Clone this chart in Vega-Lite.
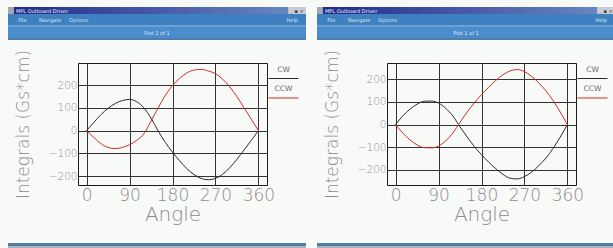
{
  "$schema": "https://vega.github.io/schema/vega-lite/v6.json",
  "padding": {"left": 7, "top": 7, "right": 0, "bottom": 0},
  "background": "#f8faf8",
  "datasets": {
    "left": [
      {"angle": 0, "series": "CW", "value": 0}, {"angle": 15, "series": "CW", "value": 36}, {"angle": 30, "series": "CW", "value": 70},
      {"angle": 45, "series": "CW", "value": 98}, {"angle": 60, "series": "CW", "value": 119}, {"angle": 75, "series": "CW", "value": 132},
      {"angle": 90, "series": "CW", "value": 137}, {"angle": 105, "series": "CW", "value": 127}, {"angle": 120, "series": "CW", "value": 100},
      {"angle": 135, "series": "CW", "value": 55}, {"angle": 150, "series": "CW", "value": -2}, {"angle": 165, "series": "CW", "value": -52},
      {"angle": 180, "series": "CW", "value": -95}, {"angle": 195, "series": "CW", "value": -133}, {"angle": 210, "series": "CW", "value": -167},
      {"angle": 225, "series": "CW", "value": -193}, {"angle": 240, "series": "CW", "value": -210}, {"angle": 255, "series": "CW", "value": -216},
      {"angle": 270, "series": "CW", "value": -210}, {"angle": 285, "series": "CW", "value": -192}, {"angle": 300, "series": "CW", "value": -163},
      {"angle": 315, "series": "CW", "value": -126}, {"angle": 330, "series": "CW", "value": -85}, {"angle": 345, "series": "CW", "value": -43},
      {"angle": 360, "series": "CW", "value": 0},
      {"angle": 0, "series": "CCW", "value": 0}, {"angle": 15, "series": "CCW", "value": -30}, {"angle": 30, "series": "CCW", "value": -57},
      {"angle": 45, "series": "CCW", "value": -74}, {"angle": 60, "series": "CCW", "value": -79}, {"angle": 75, "series": "CCW", "value": -74},
      {"angle": 90, "series": "CCW", "value": -62}, {"angle": 105, "series": "CCW", "value": -43}, {"angle": 120, "series": "CCW", "value": -14},
      {"angle": 135, "series": "CCW", "value": 42}, {"angle": 150, "series": "CCW", "value": 100}, {"angle": 165, "series": "CCW", "value": 155},
      {"angle": 180, "series": "CCW", "value": 198}, {"angle": 195, "series": "CCW", "value": 230}, {"angle": 210, "series": "CCW", "value": 253},
      {"angle": 225, "series": "CCW", "value": 266}, {"angle": 240, "series": "CCW", "value": 269}, {"angle": 255, "series": "CCW", "value": 262},
      {"angle": 270, "series": "CCW", "value": 250}, {"angle": 285, "series": "CCW", "value": 226}, {"angle": 300, "series": "CCW", "value": 192},
      {"angle": 315, "series": "CCW", "value": 149}, {"angle": 330, "series": "CCW", "value": 100}, {"angle": 345, "series": "CCW", "value": 50},
      {"angle": 360, "series": "CCW", "value": 0}
    ],
    "right": [
      {"angle": 0, "series": "CW", "value": 0}, {"angle": 15, "series": "CW", "value": 38}, {"angle": 30, "series": "CW", "value": 68},
      {"angle": 45, "series": "CW", "value": 90}, {"angle": 60, "series": "CW", "value": 103}, {"angle": 75, "series": "CW", "value": 104},
      {"angle": 90, "series": "CW", "value": 95}, {"angle": 105, "series": "CW", "value": 72}, {"angle": 120, "series": "CW", "value": 38},
      {"angle": 135, "series": "CW", "value": -10}, {"angle": 150, "series": "CW", "value": -55}, {"angle": 165, "series": "CW", "value": -97},
      {"angle": 180, "series": "CW", "value": -133}, {"angle": 195, "series": "CW", "value": -166}, {"angle": 210, "series": "CW", "value": -195},
      {"angle": 225, "series": "CW", "value": -220}, {"angle": 240, "series": "CW", "value": -237}, {"angle": 255, "series": "CW", "value": -240},
      {"angle": 270, "series": "CW", "value": -230}, {"angle": 285, "series": "CW", "value": -210}, {"angle": 300, "series": "CW", "value": -182},
      {"angle": 315, "series": "CW", "value": -148}, {"angle": 330, "series": "CW", "value": -105}, {"angle": 345, "series": "CW", "value": -55},
      {"angle": 360, "series": "CW", "value": 0},
      {"angle": 0, "series": "CCW", "value": 0}, {"angle": 15, "series": "CCW", "value": -37}, {"angle": 30, "series": "CCW", "value": -67},
      {"angle": 45, "series": "CCW", "value": -90}, {"angle": 60, "series": "CCW", "value": -102}, {"angle": 75, "series": "CCW", "value": -103},
      {"angle": 90, "series": "CCW", "value": -95}, {"angle": 105, "series": "CCW", "value": -72}, {"angle": 120, "series": "CCW", "value": -37},
      {"angle": 135, "series": "CCW", "value": 10}, {"angle": 150, "series": "CCW", "value": 55}, {"angle": 165, "series": "CCW", "value": 96},
      {"angle": 180, "series": "CCW", "value": 132}, {"angle": 195, "series": "CCW", "value": 165}, {"angle": 210, "series": "CCW", "value": 195},
      {"angle": 225, "series": "CCW", "value": 220}, {"angle": 240, "series": "CCW", "value": 237}, {"angle": 255, "series": "CCW", "value": 243},
      {"angle": 270, "series": "CCW", "value": 234}, {"angle": 285, "series": "CCW", "value": 213}, {"angle": 300, "series": "CCW", "value": 184},
      {"angle": 315, "series": "CCW", "value": 149}, {"angle": 330, "series": "CCW", "value": 106}, {"angle": 345, "series": "CCW", "value": 55},
      {"angle": 360, "series": "CCW", "value": 0}
    ]
  },
  "hconcat": [
    {
      "vconcat": [
        {"width": 228, "height": 7, "data": {"values": [{}]}, "view": {"fill": null, "stroke": null},
         "encoding": {"x": {"datum": 0, "type": "quantitative", "scale": {"domain": [23.49, 100], "nice": false, "zero": false}, "axis": null}},
         "layer": [
           {"mark": {"type": "rect", "color": {"gradient": "linear", "stops": [{"offset": 0, "color": "#1f2a8a"}, {"offset": 1, "color": "#6d8bc6"}]}}, "encoding": {"x": {"datum": 0}, "x2": {"datum": 100}}},
           {"mark": {"type": "rect", "color": "#a4a9b2"}, "encoding": {"x": {"datum": 0}, "x2": {"datum": 2}}},
           {"mark": {"type": "text", "align": "left", "baseline": "middle", "fontSize": 5, "color": "#eef2fa"}, "encoding": {"text": {"value": "MPL Outboard Driver"}, "x": {"datum": 2.7}}},
           {"mark": {"type": "rect", "color": "#c9ccd2"}, "encoding": {"x": {"datum": 94}, "x2": {"datum": 100}}},
           {"mark": {"type": "text", "align": "center", "baseline": "middle", "fontSize": 5, "color": "#333333"}, "encoding": {"text": {"value": "_ ▪ ×"}, "x": {"datum": 97}}}
         ]},
        {"width": 228, "height": 11, "data": {"values": [{}]}, "view": {"fill": null, "stroke": null},
         "encoding": {"x": {"datum": 0, "type": "quantitative", "scale": {"domain": [23.49, 100], "nice": false, "zero": false}, "axis": null}},
         "layer": [
           {"mark": {"type": "rect", "color": "#3e80c0"}, "encoding": {"x": {"datum": 0}, "x2": {"datum": 100}}},
           {"mark": {"type": "text", "align": "left", "baseline": "middle", "fontSize": 5, "color": "#d8e6f4"}, "encoding": {"text": {"value": "File"}, "x": {"datum": 3.4}}},
           {"mark": {"type": "text", "align": "left", "baseline": "middle", "fontSize": 5, "color": "#d8e6f4"}, "encoding": {"text": {"value": "Navigate"}, "x": {"datum": 10.4}}},
           {"mark": {"type": "text", "align": "left", "baseline": "middle", "fontSize": 5, "color": "#d8e6f4"}, "encoding": {"text": {"value": "Options"}, "x": {"datum": 20.5}}},
           {"mark": {"type": "text", "align": "right", "baseline": "middle", "fontSize": 5, "color": "#d8e6f4"}, "encoding": {"text": {"value": "Help"}, "x": {"datum": 97.3}}}
         ]},
        {"width": 228, "height": 2, "data": {"values": [{}]}, "view": {"fill": null, "stroke": null},
         "mark": {"type": "rect", "color": "#6e9fd0"},
         "encoding": {"x": {"datum": 0, "type": "quantitative", "scale": {"domain": [23.49, 100], "nice": false, "zero": false}, "axis": null}, "x2": {"datum": 100}}},
        {"width": 228, "height": 11, "data": {"values": [{}]}, "view": {"fill": null, "stroke": null},
         "encoding": {"x": {"datum": 0, "type": "quantitative", "scale": {"domain": [23.49, 100], "nice": false, "zero": false}, "axis": null}},
         "layer": [
           {"mark": {"type": "rect", "color": "#4a8dcc"}, "encoding": {"x": {"datum": 0}, "x2": {"datum": 100}}},
           {"mark": {"type": "text", "align": "center", "baseline": "middle", "fontSize": 5, "color": "#e2ecf7"}, "encoding": {"text": {"value": "Plot 1 of 1"}, "x": {"datum": 50}}}
         ]},
        {"width": 228, "height": 2, "data": {"values": [{}]}, "view": {"fill": null, "stroke": null},
         "mark": {"type": "rect", "color": "#4f7fa9"},
         "encoding": {"x": {"datum": 0, "type": "quantitative", "scale": {"domain": [23.49, 100], "nice": false, "zero": false}, "axis": null}, "x2": {"datum": 100}}},
        {"width": 228, "height": 8, "data": {"values": [{}]}, "view": {"fill": null, "stroke": null},
         "mark": {"type": "rect", "color": "#f8faf8"},
         "encoding": {"x": {"datum": 0, "type": "quantitative", "scale": {"domain": [23.49, 100], "nice": false, "zero": false}, "axis": null}, "x2": {"datum": 100}}},
        {
          "width": 189, "height": 122,
          "data": {"name": "left"},
          "view": {"stroke": "#1a1a1a", "strokeWidth": 1, "fill": "#f8faf8"},
          "mark": {"type": "line", "strokeWidth": 1, "interpolate": "monotone"},
          "encoding": {
            "x": {"field": "angle", "type": "quantitative", "scale": {"domain": [-18, 378], "nice": false, "zero": false},
                  "axis": {"values": [0, 90, 180, 270, 360], "title": "Angle"}},
            "y": {"field": "value", "type": "quantitative", "scale": {"domain": [-239, 297], "nice": false, "zero": false},
                  "axis": {"values": [-200, -100, 0, 100, 200], "title": "Integrals (Gs*cm)"}},
            "color": {"field": "series", "type": "nominal", "sort": ["CW", "CCW"], "scale": {"domain": ["CW", "CCW"], "range": ["#2b2b2b", "#d42a2a"]}, "legend": {"title": null}}
          }
        },
        {"width": 228, "height": 18, "data": {"values": [{}]}, "view": {"fill": null, "stroke": null},
         "mark": {"type": "rect", "color": "#f8faf8"},
         "encoding": {"x": {"datum": 0, "type": "quantitative", "scale": {"domain": [23.49, 100], "nice": false, "zero": false}, "axis": null}, "x2": {"datum": 100}}},
        {"width": 228, "height": 3, "data": {"values": [{}]}, "view": {"fill": null, "stroke": null},
         "mark": {"type": "rect", "color": "#4f7fa9"},
         "encoding": {"x": {"datum": 0, "type": "quantitative", "scale": {"domain": [23.49, 100], "nice": false, "zero": false}, "axis": null}, "x2": {"datum": 100}}},
        {"width": 228, "height": 3, "data": {"values": [{}]}, "view": {"fill": null, "stroke": null},
         "mark": {"type": "rect", "color": "#aab2ba"},
         "encoding": {"x": {"datum": 0, "type": "quantitative", "scale": {"domain": [23.49, 100], "nice": false, "zero": false}, "axis": null}, "x2": {"datum": 100}}}
      ],
      "spacing": 0,
      "resolve": {"scale": {"color": "independent", "x": "independent", "y": "independent"}, "legend": {"color": "independent"}, "axis": {"x": "independent", "y": "independent"}}
    },
    {
      "vconcat": [
        {"width": 228, "height": 7, "data": {"values": [{}]}, "view": {"fill": null, "stroke": null},
         "encoding": {"x": {"datum": 0, "type": "quantitative", "scale": {"domain": [23.49, 100], "nice": false, "zero": false}, "axis": null}},
         "layer": [
           {"mark": {"type": "rect", "color": {"gradient": "linear", "stops": [{"offset": 0, "color": "#1f2a8a"}, {"offset": 1, "color": "#6d8bc6"}]}}, "encoding": {"x": {"datum": 0}, "x2": {"datum": 100}}},
           {"mark": {"type": "rect", "color": "#a4a9b2"}, "encoding": {"x": {"datum": 0}, "x2": {"datum": 2}}},
           {"mark": {"type": "text", "align": "left", "baseline": "middle", "fontSize": 5, "color": "#eef2fa"}, "encoding": {"text": {"value": "MPL Outboard Driver"}, "x": {"datum": 2.7}}},
           {"mark": {"type": "rect", "color": "#c9ccd2"}, "encoding": {"x": {"datum": 94}, "x2": {"datum": 100}}},
           {"mark": {"type": "text", "align": "center", "baseline": "middle", "fontSize": 5, "color": "#333333"}, "encoding": {"text": {"value": "_ ▪ ×"}, "x": {"datum": 97}}}
         ]},
        {"width": 228, "height": 11, "data": {"values": [{}]}, "view": {"fill": null, "stroke": null},
         "encoding": {"x": {"datum": 0, "type": "quantitative", "scale": {"domain": [23.49, 100], "nice": false, "zero": false}, "axis": null}},
         "layer": [
           {"mark": {"type": "rect", "color": "#3e80c0"}, "encoding": {"x": {"datum": 0}, "x2": {"datum": 100}}},
           {"mark": {"type": "text", "align": "left", "baseline": "middle", "fontSize": 5, "color": "#d8e6f4"}, "encoding": {"text": {"value": "File"}, "x": {"datum": 3.4}}},
           {"mark": {"type": "text", "align": "left", "baseline": "middle", "fontSize": 5, "color": "#d8e6f4"}, "encoding": {"text": {"value": "Navigate"}, "x": {"datum": 10.4}}},
           {"mark": {"type": "text", "align": "left", "baseline": "middle", "fontSize": 5, "color": "#d8e6f4"}, "encoding": {"text": {"value": "Options"}, "x": {"datum": 20.5}}},
           {"mark": {"type": "text", "align": "right", "baseline": "middle", "fontSize": 5, "color": "#d8e6f4"}, "encoding": {"text": {"value": "Help"}, "x": {"datum": 97.3}}}
         ]},
        {"width": 228, "height": 2, "data": {"values": [{}]}, "view": {"fill": null, "stroke": null},
         "mark": {"type": "rect", "color": "#6e9fd0"},
         "encoding": {"x": {"datum": 0, "type": "quantitative", "scale": {"domain": [23.49, 100], "nice": false, "zero": false}, "axis": null}, "x2": {"datum": 100}}},
        {"width": 228, "height": 11, "data": {"values": [{}]}, "view": {"fill": null, "stroke": null},
         "encoding": {"x": {"datum": 0, "type": "quantitative", "scale": {"domain": [23.49, 100], "nice": false, "zero": false}, "axis": null}},
         "layer": [
           {"mark": {"type": "rect", "color": "#4a8dcc"}, "encoding": {"x": {"datum": 0}, "x2": {"datum": 100}}},
           {"mark": {"type": "text", "align": "center", "baseline": "middle", "fontSize": 5, "color": "#e2ecf7"}, "encoding": {"text": {"value": "Plot 1 of 1"}, "x": {"datum": 50}}}
         ]},
        {"width": 228, "height": 2, "data": {"values": [{}]}, "view": {"fill": null, "stroke": null},
         "mark": {"type": "rect", "color": "#4f7fa9"},
         "encoding": {"x": {"datum": 0, "type": "quantitative", "scale": {"domain": [23.49, 100], "nice": false, "zero": false}, "axis": null}, "x2": {"datum": 100}}},
        {"width": 228, "height": 8, "data": {"values": [{}]}, "view": {"fill": null, "stroke": null},
         "mark": {"type": "rect", "color": "#f8faf8"},
         "encoding": {"x": {"datum": 0, "type": "quantitative", "scale": {"domain": [23.49, 100], "nice": false, "zero": false}, "axis": null}, "x2": {"datum": 100}}},
        {
          "width": 189, "height": 122,
          "data": {"name": "right"},
          "view": {"stroke": "#1a1a1a", "strokeWidth": 1, "fill": "#f8faf8"},
          "mark": {"type": "line", "strokeWidth": 1, "interpolate": "monotone"},
          "encoding": {
            "x": {"field": "angle", "type": "quantitative", "scale": {"domain": [-18, 378], "nice": false, "zero": false},
                  "axis": {"values": [0, 90, 180, 270, 360], "title": "Angle"}},
            "y": {"field": "value", "type": "quantitative", "scale": {"domain": [-267, 272], "nice": false, "zero": false},
                  "axis": {"values": [-200, -100, 0, 100, 200], "title": "Integrals (Gs*cm)"}},
            "color": {"field": "series", "type": "nominal", "sort": ["CW", "CCW"], "scale": {"domain": ["CW", "CCW"], "range": ["#2b2b2b", "#d42a2a"]}, "legend": {"title": null}}
          }
        },
        {"width": 228, "height": 18, "data": {"values": [{}]}, "view": {"fill": null, "stroke": null},
         "mark": {"type": "rect", "color": "#f8faf8"},
         "encoding": {"x": {"datum": 0, "type": "quantitative", "scale": {"domain": [23.49, 100], "nice": false, "zero": false}, "axis": null}, "x2": {"datum": 100}}},
        {"width": 228, "height": 3, "data": {"values": [{}]}, "view": {"fill": null, "stroke": null},
         "mark": {"type": "rect", "color": "#4f7fa9"},
         "encoding": {"x": {"datum": 0, "type": "quantitative", "scale": {"domain": [23.49, 100], "nice": false, "zero": false}, "axis": null}, "x2": {"datum": 100}}},
        {"width": 228, "height": 3, "data": {"values": [{}]}, "view": {"fill": null, "stroke": null},
         "mark": {"type": "rect", "color": "#aab2ba"},
         "encoding": {"x": {"datum": 0, "type": "quantitative", "scale": {"domain": [23.49, 100], "nice": false, "zero": false}, "axis": null}, "x2": {"datum": 100}}}
      ],
      "spacing": 0,
      "resolve": {"scale": {"color": "independent", "x": "independent", "y": "independent"}, "legend": {"color": "independent"}, "axis": {"x": "independent", "y": "independent"}}
    }
  ],
  "spacing": 10,
  "resolve": {"scale": {"color": "independent", "x": "independent", "y": "independent"}, "legend": {"color": "independent"}},
  "config": {
    "font": "DejaVu Sans",
    "view": {"stroke": null},
    "axis": {
      "grid": true, "gridColor": "#333333", "gridOpacity": 1, "gridWidth": 1,
      "ticks": false, "domain": false,
      "labelColor": "#8c8c8c", "titleColor": "#8c8c8c",
      "labelFontWeight": 200, "titleFontWeight": 200
    },
    "axisX": {"labelFontSize": 17, "labelPadding": 2, "titleFontSize": 20, "titlePadding": 1, "labelFlush": false},
    "axisY": {"labelFontSize": 10.5, "labelPadding": 1, "titleFontSize": 17, "titlePadding": 16, "labelFlush": false},
    "legend": {
      "orient": "right", "offset": 10, "padding": 0,
      "symbolType": "M-2.5,1.5L2.5,1.5", "symbolSize": 144, "symbolStrokeWidth": 1,
      "labelAlign": "center", "labelOffset": -6.5, "labelFontSize": 7.5, "labelColor": "#6a6a6a",
      "rowPadding": 1.5
    }
  }
}
